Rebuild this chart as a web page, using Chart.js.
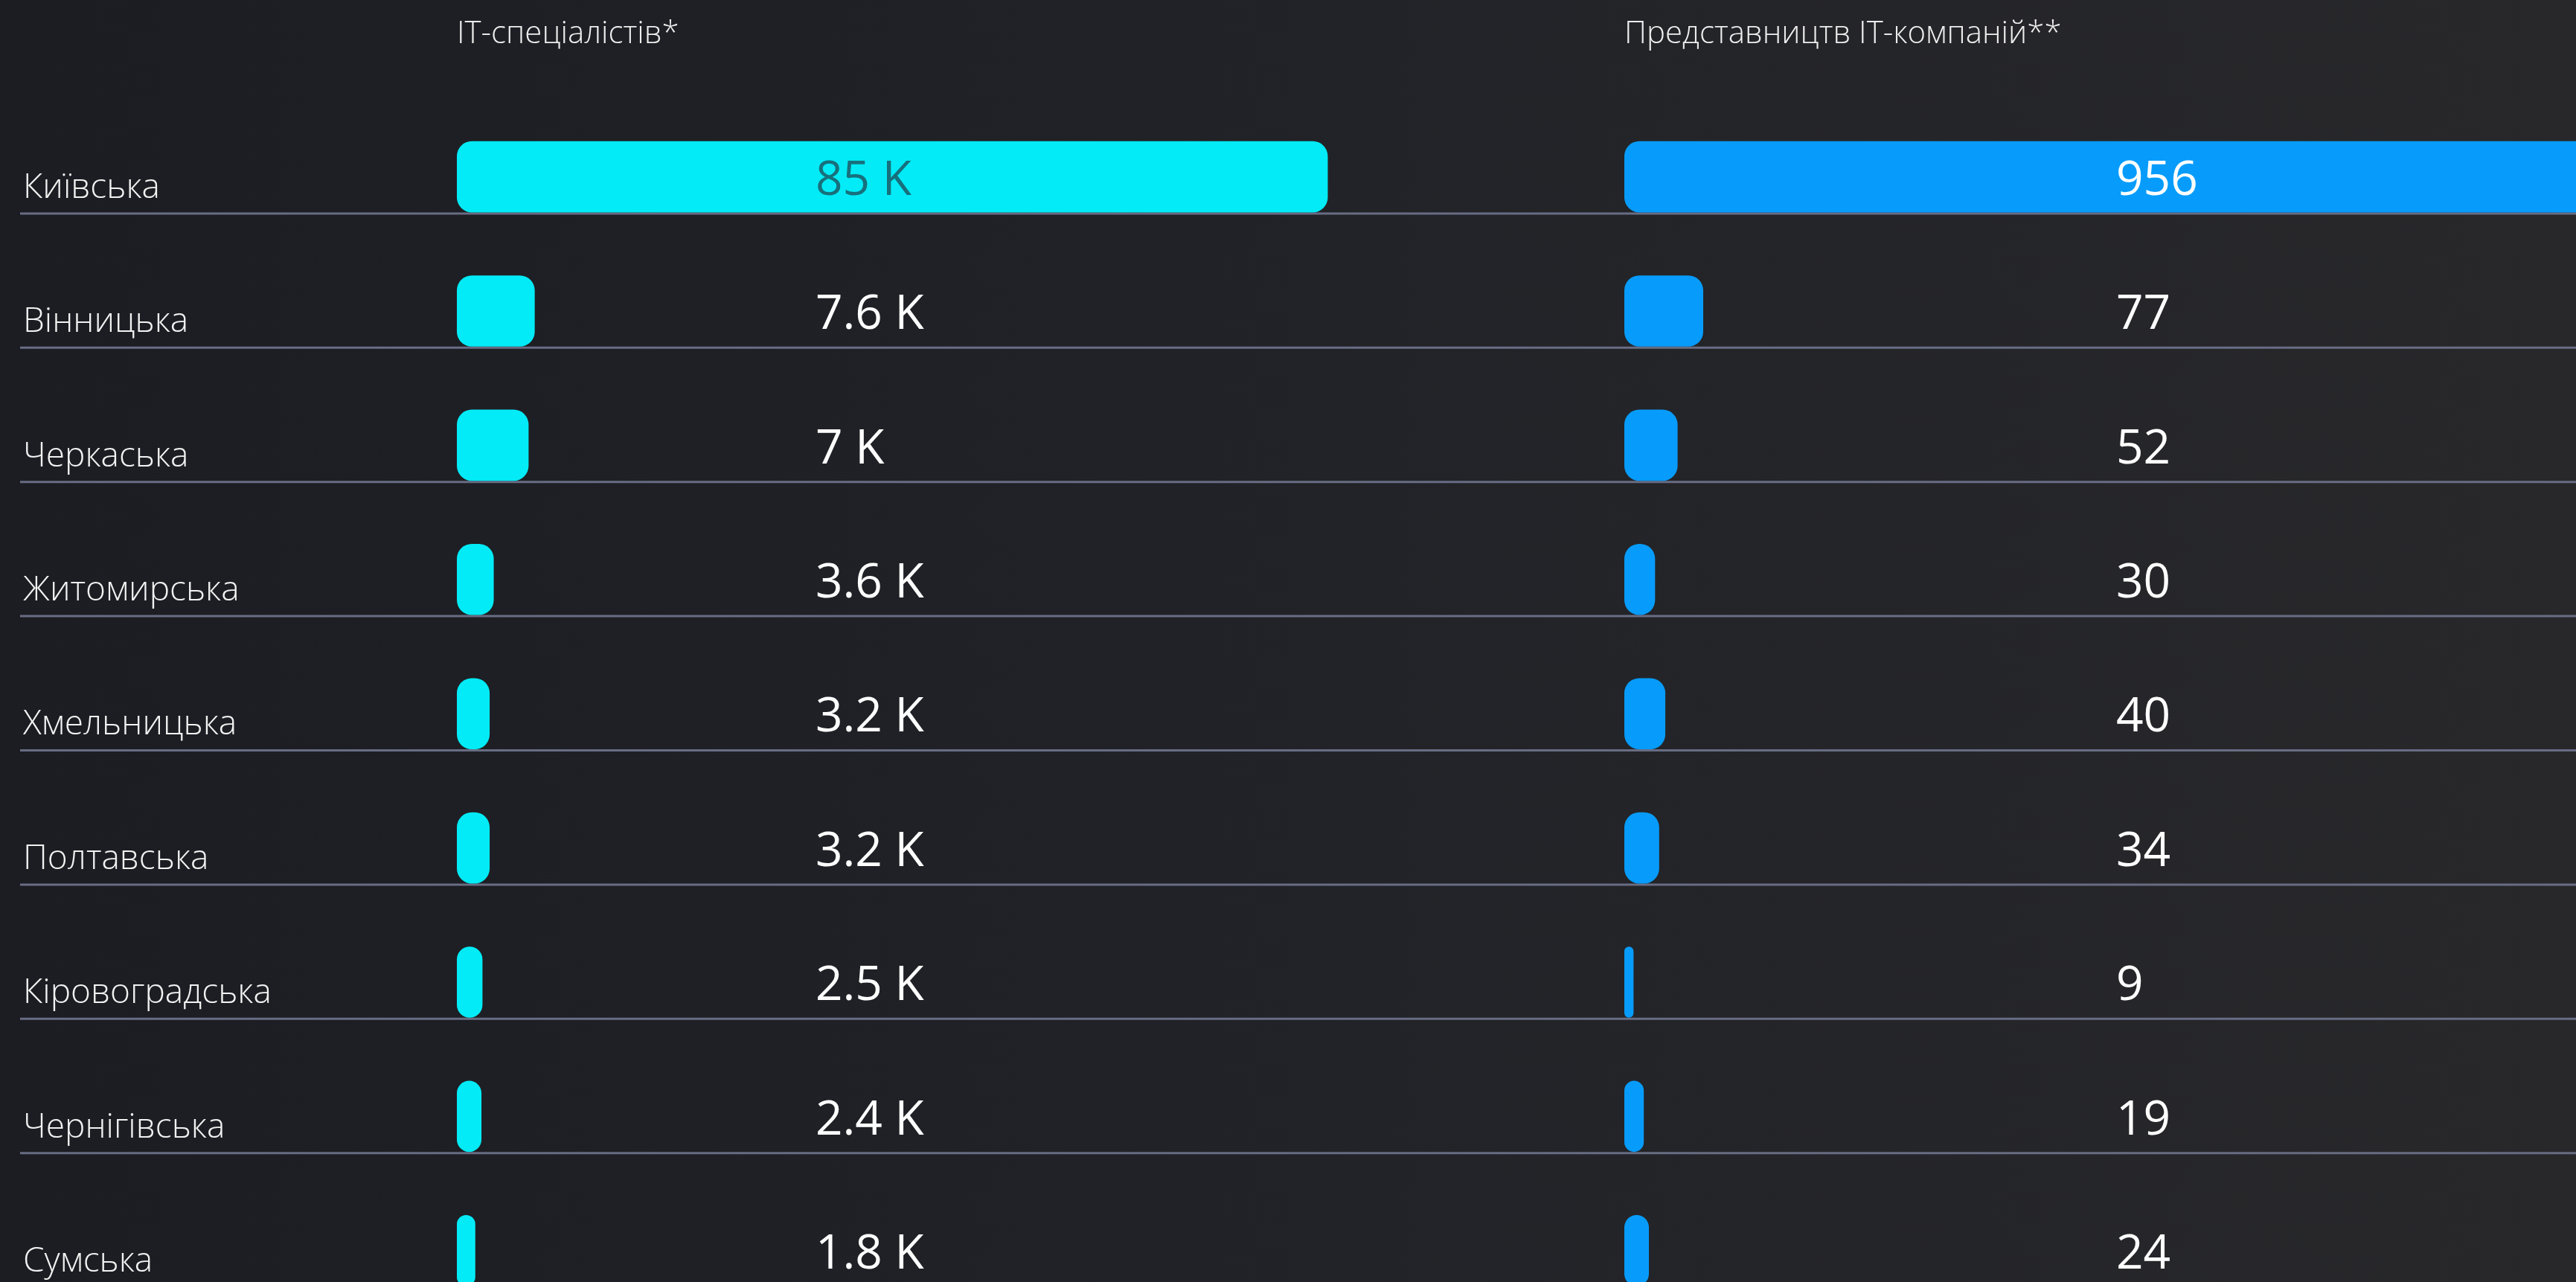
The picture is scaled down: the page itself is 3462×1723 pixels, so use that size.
<!DOCTYPE html>
<html lang="uk">
<head>
<meta charset="utf-8">
<title>IT-спеціалісти та представництва IT-компаній за областями</title>
<script src="https://cdn.jsdelivr.net/npm/chart.js@4.4.1/dist/chart.umd.min.js"></script>
<style>
  html, body { margin: 0; padding: 0; }
  body {
    width: 3462px; height: 1723px; overflow: hidden; position: relative;
    background: linear-gradient(90deg, #1c1d22 0%, #212227 45%, #28282b 100%);
  }
  canvas { position: absolute; left: 0; top: 0; }
</style>
</head>
<body>
<canvas id="left" width="3462" height="1771"></canvas>
<canvas id="right" width="3600" height="1771"></canvas>
<script>
// ---- data ----
const regions = ['Київська', 'Вінницька', 'Черкаська', 'Житомирська', 'Хмельницька',
                 'Полтавська', 'Кіровоградська', 'Чернігівська', 'Сумська'];
const itSpecialistsK = [85, 7.6, 7, 3.6, 3.2, 3.2, 2.5, 2.4, 1.8];
const itCompanyOffices = [956, 77, 52, 30, 40, 34, 9, 19, 24];
const seriesTitles = ['IT-спеціалістів*', 'Представництв IT-компаній**'];
const axisMax = [100, 1000];

const FONT = '"Open Sans", "Noto Sans", sans-serif';

// draws the thin row baselines under each bar
const rowLines = {
  id: 'rowLines',
  beforeDatasetsDraw(chart, args, opts) {
    if (!opts || !opts.enabled) return;
    const ctx = chart.ctx;
    const meta = chart.getDatasetMeta(0);
    ctx.save();
    ctx.strokeStyle = opts.color;
    ctx.lineWidth = opts.width;
    meta.data.forEach(bar => {
      const y = bar.y + bar.height / 2 + 1.5;
      ctx.beginPath();
      ctx.moveTo(opts.startX, y);
      ctx.lineTo(chart.width, y);
      ctx.stroke();
    });
    ctx.restore();
  }
};

// draws value labels at a fixed position of the value axis
const valueLabels = {
  id: 'valueLabels',
  afterDatasetsDraw(chart, args, opts) {
    const ctx = chart.ctx;
    const meta = chart.getDatasetMeta(0);
    const data = chart.data.datasets[0].data;
    const x = chart.scales.x.getPixelForValue(opts.anchor);
    ctx.save();
    ctx.font = '400 ' + opts.size + 'px ' + FONT;
    ctx.textAlign = 'left';
    ctx.textBaseline = 'middle';
    meta.data.forEach((bar, i) => {
      ctx.fillStyle = bar.x > x + 20 ? opts.insideColor : opts.color;
      ctx.fillText(opts.format(data[i]), x, bar.y + 6);
    });
    ctx.restore();
  }
};

function makeChart(canvasId, cfg) {
  return new Chart(document.getElementById(canvasId), {
    type: 'bar',
    data: {
      labels: regions,
      datasets: [{
        label: cfg.title,
        data: cfg.values,
        backgroundColor: cfg.color,
        borderRadius: 20,
        borderSkipped: false,
        borderWidth: 0,
        categoryPercentage: 1,
        barPercentage: 0.53
      }]
    },
    plugins: [rowLines, valueLabels],
    options: {
      indexAxis: 'y',
      responsive: false,
      animation: false,
      events: [],
      layout: { padding: cfg.padding },
      plugins: {
        legend: { display: false },
        tooltip: { enabled: false },
        rowLines: { enabled: cfg.lines, color: '#686d84', width: 3, startX: 27 },
        valueLabels: {
          anchor: cfg.labelAnchor, size: 64, color: '#ffffff',
          insideColor: cfg.insideColor, format: cfg.format
        }
      },
      scales: {
        x: {
          position: 'top', min: 0, max: cfg.max,
          grid: { display: false, drawTicks: false },
          border: { display: false },
          ticks: { display: false },
          title: {
            display: true, text: cfg.title, align: 'start', color: '#eeeeee',
            font: { family: FONT, size: 42, weight: '300' },
            padding: { top: 21, bottom: 76 }
          }
        },
        y: {
          display: cfg.showCategories,
          grid: { display: false, drawTicks: false },
          border: { display: false },
          ticks: {
            crossAlign: 'far', color: '#f2f2f2', padding: 0, labelOffset: 15,
            font: { family: FONT, size: 46, weight: '300' }
          },
          afterFit(scale) {
            scale.paddingTop = 0;
            scale.paddingBottom = 0;
            if (cfg.showCategories) scale.width = cfg.categoryWidth;
          }
        }
      }
    }
  });
}

function draw() {
  makeChart('left', {
    title: seriesTitles[0], values: itSpecialistsK, max: axisMax[0],
    color: '#03ebf6', insideColor: '#17707c', labelAnchor: 35,
    format: v => v + ' K',
    padding: { left: 31, right: 1471, top: 0, bottom: 0 },
    showCategories: true, categoryWidth: 583, lines: true
  });
  makeChart('right', {
    title: seriesTitles[1], values: itCompanyOffices, max: axisMax[1],
    color: '#079cfb', insideColor: '#ffffff', labelAnchor: 480,
    format: v => String(v),
    padding: { left: 2183, right: 40, top: 0, bottom: 0 },
    showCategories: false, categoryWidth: 0, lines: false
  });
}

Promise.all([
  document.fonts.load('300 46px "Open Sans"'),
  document.fonts.load('400 64px "Open Sans"'),
  document.fonts.load('300 42px "Open Sans"')
]).then(draw, draw);
</script>
</body>
</html>
